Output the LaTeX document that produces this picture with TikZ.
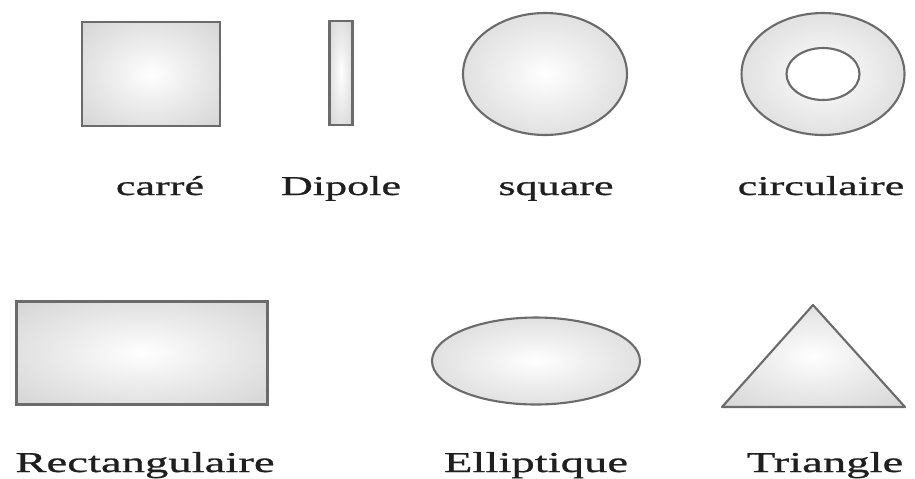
\documentclass[tikz,border=0pt]{standalone}
\usepackage{fontspec}
\setmainfont[FakeStretch=1.62, FakeBold=0.9]{Liberation Serif}
\usepackage{tikz}
\usetikzlibrary{shapes.geometric, positioning}

\pgfdeclareradialshading{antshade}{\pgfpoint{0bp}{0bp}}{%
  color(0bp)=(white); color(12bp)=(white!94!black);
  color(30bp)=(black!14); color(46bp)=(black!22); color(50bp)=(black!22)}

\begin{document}
\begin{tikzpicture}[
  x=0.02cm, y=-0.02cm,
  every node/.style={inner sep=0pt, outer sep=0pt},
  antenna/.style={draw=black!58, line width=1.2pt, shading=antshade},
  patch/.style={antenna, rectangle},
  disc/.style={antenna, ellipse},
  hole/.style={ellipse, draw=black!58, line width=1.2pt, fill=white},
  lbl/.style={anchor=base, text=black!88, font=\fontsize{15.5}{18}\selectfont},
  lblbig/.style={lbl, font=\fontsize{16.4}{19}\selectfont}
]
  \useasboundingbox (0,0) rectangle (915,478);

  % Top row
  \node[patch, minimum width=2.76cm, minimum height=2.08cm] (carre)  at (151,74) {};
  \node[patch, minimum width=0.46cm, minimum height=2.08cm] (dipole) at (341,73) {};
  \node[disc,  minimum width=3.28cm, minimum height=2.44cm] (square) at (545,74) {};
  \node[disc,  minimum width=3.26cm, minimum height=2.44cm] (circ)   at (823,74) {};
  \node[hole,  minimum width=1.46cm, minimum height=1.04cm] (circin) at (823,74) {};

  \node[lbl] (lcarre)  at (160,195) {carré};
  \node[lbl] (ldipole) at (341,195) {Dipole};
  \node[lbl] (lsquare) at (556,195) {square};
  \node[lbl] (lcirc)   at (821,195) {circulaire};

  % Bottom row
  \node[patch, minimum width=5.02cm, minimum height=2.06cm] (rect) at (142,353) {};
  \node[disc,  minimum width=4.16cm, minimum height=1.74cm] (elli) at (536,361) {};
  \coordinate (triA) at (813,305);
  \coordinate (triB) at (722,407);
  \coordinate (triC) at (905,407);
  \draw[antenna, line join=round] (triA) -- (triB) -- (triC) -- cycle;

  \node[lblbig] (lrect) at (145,472) {Rectangulaire};
  \node[lblbig] (lelli) at (536,472) {Elliptique};
  \node[lblbig] (ltri)  at (825,472) {Triangle};
\end{tikzpicture}
\end{document}
